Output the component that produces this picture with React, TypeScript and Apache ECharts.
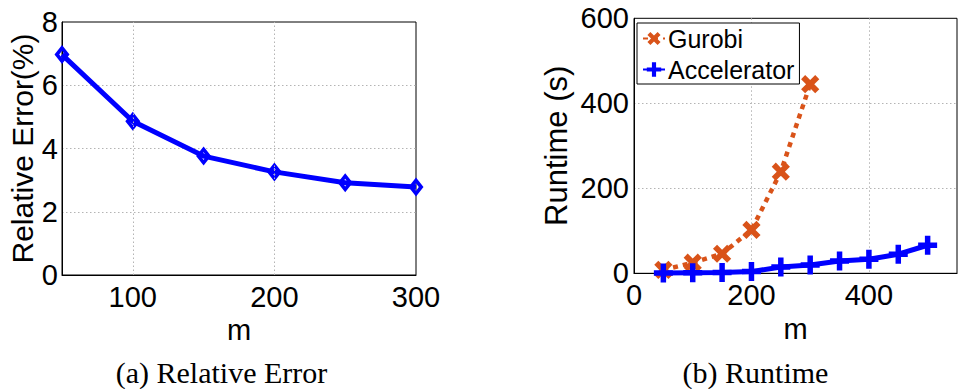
import React, { useEffect, useRef } from "react";
import * as echarts from "echarts";

// ---- data ----
const mError = [50, 100, 150, 200, 250, 300];
const relativeError = [6.97, 4.86, 3.76, 3.26, 2.92, 2.78];
const errorGridX = [100, 200];

const mGurobi = [50, 100, 150, 200, 250, 300];
const gurobiRuntime = [8, 25, 46, 102, 239, 445];

const mAccel = [50, 100, 150, 200, 250, 300, 350, 400, 450, 500];
const accelRuntime = [0.8, 1.5, 2, 4, 15, 19.5, 29, 33, 45, 66];

const captions = ["(a) Relative Error", "(b) Runtime"];
const seriesNames = ["Gurobi", "Accelerator"];

const FONT = "'Liberation Sans', Arial, Helvetica, sans-serif";
const PLUS = "path://M-2.6,-9H2.6V-2.6H9V2.6H2.6V9H-2.6V2.6H-9V-2.6H-2.6Z";
const DIAMOND = "path://M0,-9L7,0L0,9L-7,0Z M0,-3.6L-2.6,0L0,3.6L2.6,0Z";
const ORANGE = "#D95319";
const BLUE = "#0000FF";

const gridLine = { show: true, lineStyle: { color: "#b4b4b4", type: [1.5, 2.5], width: 1 }, showMinLine: false, showMaxLine: false };
const axisLine = { show: true, lineStyle: { color: "#000", width: 1 } };
const tickLabel = { color: "#000", fontSize: 29, fontFamily: FONT, margin: 7 };
const nameStyle = { color: "#000", fontSize: 29, fontFamily: FONT };

export default function App() {
  const ref = useRef<HTMLDivElement>(null);
  useEffect(() => {
    const chart = echarts.init(ref.current!, undefined, { renderer: "svg" });
    chart.setOption({
      animation: false,
      backgroundColor: "#fff",
      grid: [
        { left: 62, top: 22, width: 354, height: 253, show: true, borderColor: "#000", borderWidth: 1, backgroundColor: "transparent" },
        { left: 634, top: 18.3, width: 336.4, height: 255, show: true, borderColor: "#000", borderWidth: 1, backgroundColor: "transparent" },
      ],
      xAxis: [
        {
          type: "value", gridIndex: 0, min: 50, max: 300, interval: 50,
          axisLine, axisTick: { show: false }, splitLine: { show: false },
          axisLabel: { ...tickLabel, formatter: (v: number) => (v % 100 === 0 ? String(v) : "") },
          name: "m", nameLocation: "middle", nameGap: 32, nameTextStyle: nameStyle,
        },
        {
          type: "value", gridIndex: 1, min: 0, max: 550, interval: 200,
          axisLine, axisTick: { show: false }, splitLine: gridLine,
          axisLabel: { ...tickLabel, formatter: (v: number) => (v % 200 === 0 ? String(v) : "") },
          name: "m", nameLocation: "middle", nameGap: 34, nameTextStyle: nameStyle,
        },
      ],
      yAxis: [
        {
          type: "value", gridIndex: 0, min: 0, max: 8, interval: 2,
          axisLine, axisTick: { show: false }, splitLine: gridLine,
          axisLabel: { ...tickLabel, margin: 4 },
          name: "Relative Error(%)", nameLocation: "middle", nameGap: 24,
          nameTextStyle: { ...nameStyle, fontSize: 30 },
        },
        {
          type: "value", gridIndex: 1, min: 0, max: 600, interval: 200,
          axisLine, axisTick: { show: false }, splitLine: gridLine,
          axisLabel: { ...tickLabel, margin: 5 },
          name: "Runtime (s)", nameLocation: "middle", nameGap: 62,
          nameTextStyle: { ...nameStyle, fontSize: 31 },
        },
      ],
      legend: {
        data: seriesNames,
        orient: "vertical",
        left: 637, top: 23,
        padding: [3, 5, 2, 5],
        itemGap: 6,
        itemWidth: 22, itemHeight: 18,
        borderColor: "#000", borderWidth: 1, borderRadius: 0,
        backgroundColor: "#fff",
        textStyle: { color: "#000", fontSize: 25, fontFamily: FONT, padding: [0, 0, 0, -2] },
      },
      series: [
        {
          type: "line", xAxisIndex: 0, yAxisIndex: 0, z: 1, data: [], silent: true,
          markLine: {
            silent: true, symbol: "none", label: { show: false },
            lineStyle: { color: "#b4b4b4", type: [1.5, 2.5], width: 1 },
            data: errorGridX.map((x) => ({ xAxis: x })),
          },
        },
        {
          name: "Relative Error",
          type: "line", xAxisIndex: 0, yAxisIndex: 0,
          data: mError.map((m, i) => [m, relativeError[i]]),
          lineStyle: { color: BLUE, width: 5 },
          symbol: DIAMOND, symbolSize: [15, 19],
          itemStyle: { color: BLUE },
          clip: false,
        },
        {
          name: seriesNames[0],
          type: "line", xAxisIndex: 1, yAxisIndex: 1,
          data: mGurobi.map((m, i) => [m, gurobiRuntime[i]]),
          lineStyle: { color: ORANGE, width: 4.5, type: [5, 5] },
          symbol: PLUS, symbolSize: 20, symbolRotate: 45,
          itemStyle: { color: ORANGE },
          clip: false,
        },
        {
          name: seriesNames[1],
          type: "line", xAxisIndex: 1, yAxisIndex: 1,
          data: mAccel.map((m, i) => [m, accelRuntime[i]]),
          lineStyle: { color: BLUE, width: 5 },
          symbol: PLUS, symbolSize: 19,
          itemStyle: { color: BLUE },
          clip: false,
        },
      ],
      graphic: [
        {
          type: "text", x: 221.5, y: 372,
          style: { text: captions[0], fill: "#000", font: "30px 'Liberation Serif', 'Times New Roman', serif", textAlign: "center", textVerticalAlign: "middle" },
        },
        {
          type: "text", x: 755.5, y: 372,
          style: { text: captions[1], fill: "#000", font: "30px 'Liberation Serif', 'Times New Roman', serif", textAlign: "center", textVerticalAlign: "middle" },
        },
      ],
    });
    return () => chart.dispose();
  }, []);
  return <div ref={ref} style={{ position: "absolute", left: 0, top: 0, width: 960, height: 389 }} />;
}
